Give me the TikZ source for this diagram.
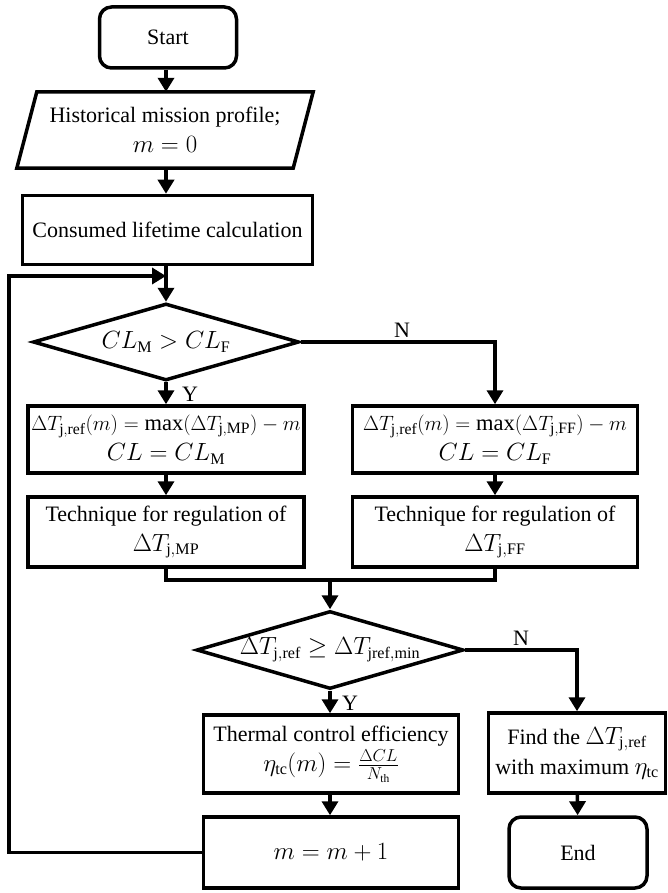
\documentclass[tikz,border=0pt]{standalone}
\usepackage{fontspec}
\setmainfont{Liberation Serif}
\usetikzlibrary{arrows.meta,shapes.geometric}
\newcommand{\mymath}[1]{{\fontsize{23}{30}\selectfont$#1$}}
\newcommand{\mylong}[1]{{\fontsize{22.5}{30}\selectfont$#1$}}
\begin{document}
\begin{tikzpicture}[x=1pt,y=-1pt,
  every node/.style={font=\fontsize{22}{30}\selectfont},
  box/.style={draw,line width=3.5pt,inner sep=0pt,align=center},
  term/.style={box,rounded corners=12pt},
  dia/.style={draw,line width=3.5pt,diamond,aspect=3.4,inner sep=0pt,align=center},
  ln/.style={line width=3.5pt},
  arr/.style={line width=3.5pt,-{Triangle[width=16pt,length=14pt]}},
  lbl/.style={inner sep=0pt}]
\useasboundingbox (0,0) rectangle (668,893);
% nodes
\node[term,minimum width=137pt,minimum height=61pt] (start) at (168,37.5) {Start};
\node[inner sep=0pt,align=center,minimum width=256pt,minimum height=76pt] (para) at (165,130) {Historical mission profile;\\ \mymath{m=0}};
\draw[ln,line join=miter] (para.north west) -- ([xshift=20pt]para.north east) -- (para.south east) -- ([xshift=-20pt]para.south west) -- cycle;
\node[box,minimum width=290pt,minimum height=69pt] (cons) at (167.5,230) {Consumed lifetime calculation};
\coordinate (join) at (166,276);
\coordinate (loopc) at (9,276);
\node[dia,minimum width=266pt,minimum height=77pt] (d1) at (166,342) {\mymath{CL_{\mathrm{M}} > CL_{\mathrm{F}}}};
\node[box,minimum width=276pt,minimum height=67pt] (mp) at (166,439.5) {\mylong{\Delta T_{\mathrm{j,ref}}(m) = \max(\Delta T_{\mathrm{j,MP}}) - m}\\ \mymath{CL = CL_{\mathrm{M}}}};
\node[box,minimum width=276pt,minimum height=70pt] (tmp) at (166,532) {Technique for regulation of\\ \mymath{\Delta T_{\mathrm{j,MP}}}};
\node[box,minimum width=285pt,minimum height=67pt] (ff) at (495,439.5) {\mylong{\Delta T_{\mathrm{j,ref}}(m) = \max(\Delta T_{\mathrm{j,FF}}) - m}\\ \mymath{CL = CL_{\mathrm{F}}}};
\node[box,minimum width=285pt,minimum height=70pt] (tff) at (495,532) {Technique for regulation of\\ \mymath{\Delta T_{\mathrm{j,FF}}}};
\coordinate (merge) at (330,580);
\node[dia,minimum width=267pt,minimum height=78pt] (d2) at (330,650) {\mymath{\Delta T_{\mathrm{j,ref}} \geq \Delta T_{\mathrm{jref,min}}}};
\node[box,minimum width=255pt,minimum height=78pt] (th) at (331,754) {Thermal control efficiency\\ \mymath{\eta_{\mathrm{tc}}(m) = \frac{\Delta CL}{N_{\mathrm{th}}}}};
\node[box,minimum width=255pt,minimum height=71pt] (mb) at (331,852.5) {\mymath{m = m + 1}};
\node[box,minimum width=177pt,minimum height=80pt] (find) at (577,753) {Find the \mymath{\Delta T_{\mathrm{j,ref}}}\\ with maximum \mymath{\eta_{\mathrm{tc}}}};
\node[term,minimum width=138pt,minimum height=71pt] (end) at (578,852.5) {End};
% labels
\node[lbl] (y1) at (190,394) {Y};
\node[lbl] (n1) at (402,330) {N};
\node[lbl] (y2) at (350,703) {Y};
\node[lbl] (n2) at (521,638) {N};
% connectors
\draw[arr] (start.south -| join) -- (para.north -| join);
\draw[arr] (para.south -| join) -- (cons.north -| join);
\draw[ln] (cons.south -| join) -- (join);
\draw[arr] (join) -- (d1.north);
\draw[arr] (d1.south) -- (mp.north);
\draw[arr] (mp) -- (tmp);
\draw[arr] (d1.east) -| (ff.north);
\draw[arr] (ff) -- (tff);
\draw[ln] (tmp.south) |- (merge);
\draw[ln] (tff.south) |- (merge);
\draw[arr] (merge) -- (d2.north);
\draw[arr] (d2.south) -- (d2.south |- th.north);
\draw[arr] (th.south -| d2.south) -- (mb.north -| d2.south);
\draw[arr] (d2.east) -| (find.north);
\draw[arr] (find) -- (end);
\draw[arr,line join=miter] (mb.west) -| (loopc) -- (join);
\end{tikzpicture}
\end{document}
